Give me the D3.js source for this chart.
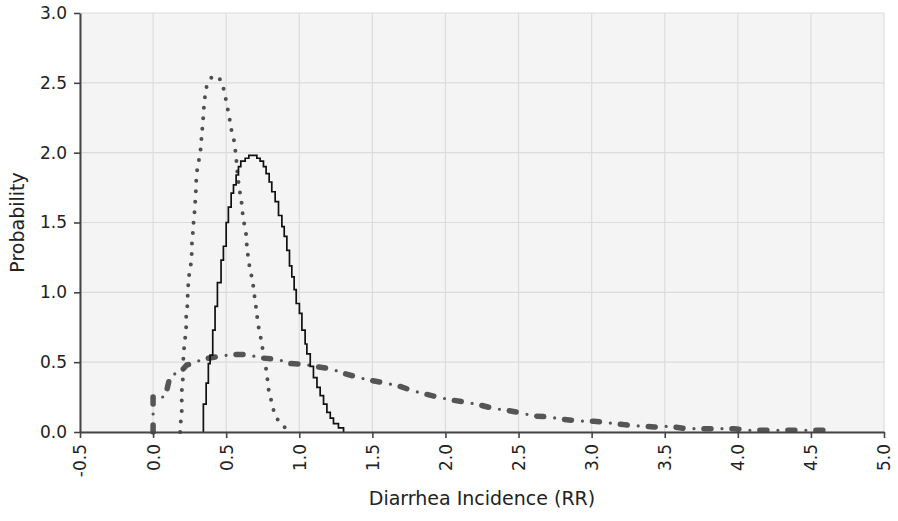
<!DOCTYPE html>
<html><head><meta charset="utf-8">
<script src="https://cdn.jsdelivr.net/npm/d3@7/dist/d3.min.js"></script>
<style>body{margin:0;background:#fff}svg{display:block}text{font-family:"DejaVu Sans",Verdana,sans-serif;fill:#222}</style>
</head><body><svg id="c" width="898" height="521"></svg>
<script>
const xTicks = [-0.5,0,0.5,1,1.5,2,2.5,3,3.5,4,4.5,5];
const xTickLabels = ["-0.5","0.0","0.5","1.0","1.5","2.0","2.5","3.0","3.5","4.0","4.5","5.0"];
const yTicks = [0,0.5,1,1.5,2,2.5,3];
const yTickLabels = ["0.0","0.5","1.0","1.5","2.0","2.5","3.0"];
const xTitle = "Diarrhea Incidence (RR)";
const yTitle = "Probability";

// solid black step series
const stepX = [0.344,0.344,0.363,0.378,0.390,0.408,0.424,0.440,0.465,0.481,0.500,0.515,0.534,0.550,0.568,0.584,0.600,0.630,0.655,0.710,0.732,0.755,0.773,0.794,0.812,0.835,0.858,0.881,0.897,0.915,0.933,0.949,0.965,0.979,1.001,1.018,1.040,1.052,1.075,1.097,1.121,1.143,1.166,1.189,1.212,1.234,1.268,1.303];
const stepY = [0,0.20,0.35,0.49,0.55,0.73,0.90,1.07,1.23,1.33,1.50,1.61,1.71,1.77,1.84,1.90,1.94,1.96,1.98,1.96,1.94,1.90,1.85,1.79,1.72,1.65,1.55,1.47,1.40,1.30,1.19,1.11,1.02,0.92,0.85,0.73,0.63,0.56,0.47,0.39,0.32,0.26,0.20,0.14,0.10,0.06,0.03,0];

// dotted series
const dotX = [0.185,0.189,0.196,0.196,0.196,0.203,0.207,0.207,0.212,0.219,0.226,0.226,0.235,0.237,0.241,0.248,0.258,0.264,0.265,0.271,0.276,0.283,0.287,0.292,0.294,0.299,0.310,0.322,0.328,0.333,0.340,0.345,0.349,0.356,0.367,0.385,0.401,0.436,0.470,0.486,0.500,0.511,0.522,0.534,0.550,0.561,0.568,0.573,0.580,0.595,0.607,0.614,0.625,0.637,0.641,0.648,0.659,0.669,0.682,0.691,0.698,0.710,0.714,0.728,0.739,0.750,0.760,0.773,0.782,0.789,0.801,0.819,0.828,0.858,0.897,0.917];
const dotY = [0,0.07,0.14,0.22,0.29,0.37,0.44,0.53,0.60,0.67,0.74,0.82,0.91,0.99,1.06,1.14,1.20,1.27,1.34,1.41,1.49,1.57,1.63,1.71,1.78,1.86,1.93,1.99,2.06,2.13,2.21,2.28,2.35,2.41,2.48,2.52,2.54,2.55,2.51,2.44,2.37,2.31,2.25,2.17,2.11,2.03,1.97,1.90,1.82,1.71,1.63,1.55,1.48,1.41,1.34,1.27,1.19,1.14,1.07,1.00,0.93,0.86,0.79,0.72,0.66,0.59,0.53,0.45,0.38,0.31,0.25,0.19,0.13,0.08,0.04,0];

// dash-dot series
const dashX = [0,0,0.070,0.094,0.116,0.196,0.231,0.274,0.333,0.445,0.539,0.637,0.744,0.852,0.938,1.034,1.109,1.225,1.303,1.407,1.486,1.588,1.679,1.763,1.850,1.948,2.038,2.129,2.227,2.321,2.417,2.519,2.604,2.704,2.805,2.906,3.014,3.122,3.216,3.320,3.430,3.539,3.642,3.755,3.870,3.971,4.075,4.190,4.304,4.419,4.525,4.649];
const dashY = [0,0.26,0.25,0.30,0.40,0.44,0.48,0.49,0.52,0.54,0.555,0.555,0.53,0.52,0.49,0.485,0.47,0.45,0.42,0.39,0.37,0.35,0.33,0.30,0.275,0.25,0.23,0.215,0.196,0.17,0.156,0.136,0.115,0.108,0.091,0.079,0.077,0.065,0.053,0.043,0.036,0.041,0.024,0.024,0.024,0.024,0.012,0.012,0.012,0.012,0.012,0.012];

const svg = d3.select("#c");
const L = 80, R = 884, T = 13, B = 432;
const x = d3.scaleLinear().domain([-0.5,5]).range([L,R]);
const y = d3.scaleLinear().domain([0,3]).range([B,T]);

svg.append("rect").attr("x",L).attr("y",T).attr("width",R-L).attr("height",B-T).attr("fill","#f4f4f4");

const g = svg.append("g");
g.selectAll("line.vg").data(xTicks).join("line").attr("class","vg")
 .attr("x1",d=>x(d)).attr("x2",d=>x(d)).attr("y1",T).attr("y2",B)
 .attr("stroke","#dcdcdc").attr("stroke-width",1.2);
g.selectAll("line.hg").data(yTicks).join("line").attr("class","hg")
 .attr("x1",L).attr("x2",R).attr("y1",d=>y(d)).attr("y2",d=>y(d))
 .attr("stroke","#dcdcdc").attr("stroke-width",1.2);

const pts = (xs,ys)=>xs.map((v,i)=>[v,ys[i]]);
const line = d3.line().x(d=>x(d[0])).y(d=>y(d[1]));

// dash-dot
svg.append("path").datum(pts(dashX,dashY)).attr("d",line)
 .attr("fill","none").attr("stroke","#555").attr("stroke-width",5.5)
 .attr("stroke-linecap","round").attr("stroke-linejoin","round").attr("stroke-dasharray","7 21");
svg.append("path").datum(pts(dashX,dashY)).attr("d",line)
 .attr("fill","none").attr("stroke","#555").attr("stroke-width",3.2)
 .attr("stroke-linecap","round").attr("stroke-dasharray","0 28").attr("stroke-dashoffset",10);

// dotted
svg.append("path").datum(pts(dotX,dotY)).attr("d",line)
 .attr("fill","none").attr("stroke","#4f4f4f").attr("stroke-width",4)
 .attr("stroke-linecap","round").attr("stroke-dasharray","0 10.5");

// step
svg.append("path").datum(pts(stepX,stepY)).attr("d",line.curve(d3.curveStepAfter))
 .attr("fill","none").attr("stroke","#111").attr("stroke-width",1.7);

// axes
const xa = svg.append("g").attr("transform",`translate(0,${B})`)
 .call(d3.axisBottom(x).tickValues(xTicks).tickFormat((d,i)=>xTickLabels[i]).tickSize(6).tickSizeOuter(0));
xa.selectAll("text").attr("transform","rotate(-90)").attr("text-anchor","end")
 .attr("x",-12).attr("y",0).attr("dy","0.35em").style("font-size","17px");
const ya = svg.append("g").attr("transform",`translate(${L},0)`)
 .call(d3.axisLeft(y).tickValues(yTicks).tickFormat((d,i)=>yTickLabels[i]).tickSize(6).tickSizeOuter(0));
ya.selectAll("text").attr("x",-13).style("font-size","17px");
svg.selectAll(".domain").attr("stroke","#444").attr("stroke-width",2);
svg.selectAll(".tick line").attr("stroke","#444").attr("stroke-width",1.6);
svg.selectAll(".tick text").attr("fill","#222").style("font-family","'DejaVu Sans',Verdana,sans-serif");

svg.append("text").attr("x",(L+R)/2).attr("y",505).attr("text-anchor","middle")
 .style("font-size","19px").text(xTitle);
svg.append("text").attr("transform",`translate(24,${(T+B)/2}) rotate(-90)`).attr("text-anchor","middle")
 .style("font-size","19px").text(yTitle);
</script></body></html>
